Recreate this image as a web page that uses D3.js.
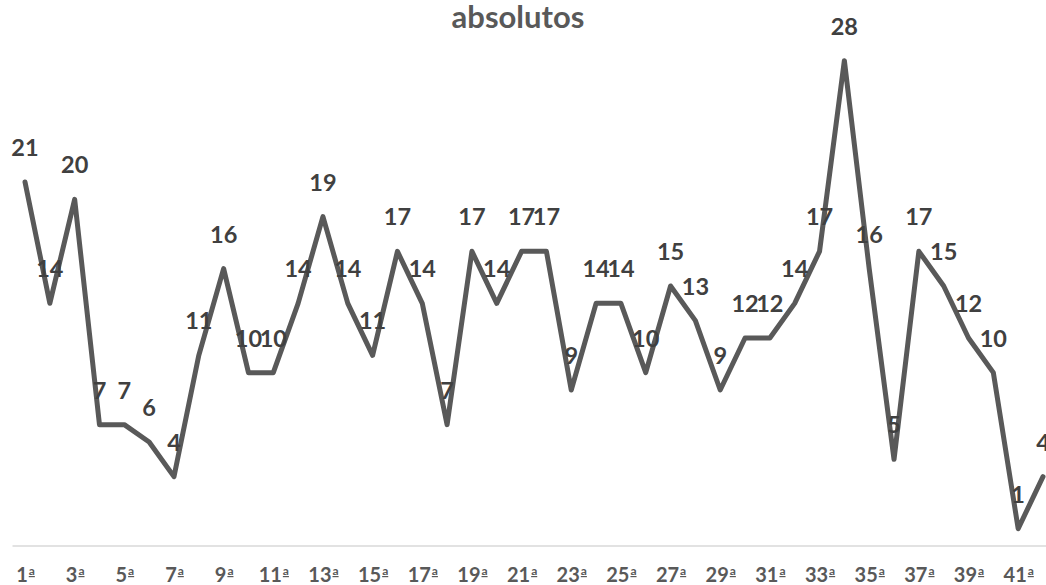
<!DOCTYPE html>
<html>
<head>
<meta charset="utf-8">
<script src="https://cdn.jsdelivr.net/npm/d3@7"></script>
<style>
  html, body { margin: 0; padding: 0; background: #ffffff; }
  svg { display: block; }
</style>
</head>
<body>
<svg id="chart" width="1046" height="585"></svg>
<script>
// Ordinal session labels (1ª … 42ª) and the absolute count for each one
const categories = [
  "1ª","2ª","3ª","4ª","5ª","6ª","7ª","8ª","9ª","10ª",
  "11ª","12ª","13ª","14ª","15ª","16ª","17ª","18ª","19ª","20ª",
  "21ª","22ª","23ª","24ª","25ª","26ª","27ª","28ª","29ª","30ª",
  "31ª","32ª","33ª","34ª","35ª","36ª","37ª","38ª","39ª","40ª",
  "41ª","42ª"
];
const values = [
  21, 14, 20, 7, 7, 6, 4, 11, 16, 10,
  10, 14, 19, 14, 11, 17, 14, 7, 17, 14,
  17, 17, 9, 14, 14, 10, 15, 13, 9, 12,
  12, 14, 17, 28, 16, 5, 17, 15, 12, 10,
  1, 4
];
// Every second category is labelled on the axis
const tickLabels = categories.filter((d, i) => i % 2 === 0);
const chartTitle = "absolutos";

const W = 1046, H = 585;
const svg = d3.select("#chart");

const x = d3.scalePoint().domain(categories).range([25, 1043]);
const y = d3.scaleLinear().domain([0, 30]).range([546, 26]);

const data = categories.map((c, i) => ({ cat: c, value: values[i] }));

// Title
svg.append("text")
  .attr("x", 518)
  .attr("y", 28)
  .attr("text-anchor", "middle")
  .attr("font-family", "Lato, 'Open Sans', sans-serif")
  .attr("font-weight", 700)
  .attr("font-size", 31)
  .attr("fill", "#595959")
  .text(chartTitle);

// Category axis
const xAxis = d3.axisBottom(x).tickValues(tickLabels).tickSize(0).tickPadding(0);
const gx = svg.append("g")
  .attr("transform", `translate(0, ${y(0)})`)
  .call(xAxis);
gx.select(".domain")
  .attr("d", `M12.5,0H${W}`)
  .attr("stroke", "#d9d9d9")
  .attr("stroke-width", 1.5);
gx.selectAll(".tick text")
  .attr("y", 36)
  .attr("dy", null)
  .attr("font-family", "Lato, 'Open Sans', sans-serif")
  .attr("font-weight", 700)
  .attr("font-size", 20)
  .attr("fill", "#595959")
  .each(function(d) {
    // number, then the ordinal indicator drawn raised and underlined
    const t = d3.select(this).text(null);
    t.append("tspan").text(d.replace("ª", ""));
    t.append("tspan")
      .attr("dx", 1)
      .attr("dy", -7)
      .attr("font-size", 12)
      .style("text-decoration", "underline")
      .text("a");
  });

// Series line
const line = d3.line()
  .x(d => x(d.cat))
  .y(d => y(d.value));

svg.append("path")
  .datum(data)
  .attr("d", line)
  .attr("fill", "none")
  .attr("stroke", "#595959")
  .attr("stroke-width", 5)
  .attr("stroke-linejoin", "round")
  .attr("stroke-linecap", "round");

// Value labels above each point
svg.append("g")
  .selectAll("text")
  .data(data)
  .join("text")
  .attr("x", d => x(d.cat))
  .attr("y", d => y(d.value) - 26)
  .attr("text-anchor", "middle")
  .attr("font-family", "Lato, 'Open Sans', sans-serif")
  .attr("font-weight", 700)
  .attr("font-size", 23.5)
  .attr("fill", "#404040")
  .text(d => d.value);
</script>
</body>
</html>
